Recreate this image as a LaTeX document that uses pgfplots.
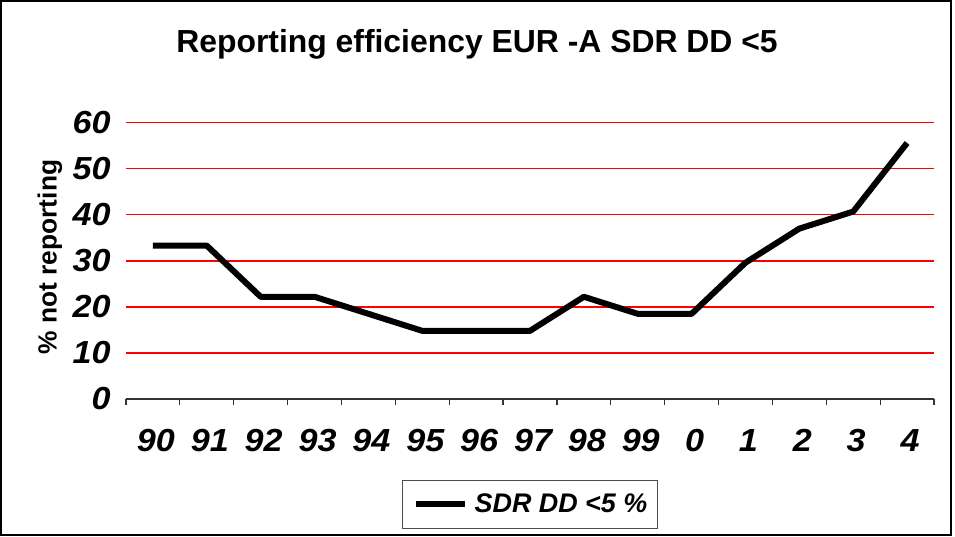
\documentclass[border=0pt]{standalone}
\usepackage{fontspec}
\setmainfont{Liberation Sans}
\newfontfamily\tickfont[FakeStretch=1.07]{Liberation Sans}
\usepackage{pgfplots}
\pgfplotsset{compat=1.18}
\begin{document}
\begin{tikzpicture}
\useasboundingbox (-63bp,-69bp) rectangle (414.5bp,199.5bp);
\draw[line width=1bp] (-62.25bp,-68bp) rectangle (412.5bp,198.75bp);
\begin{axis}[
 at={(0,0)}, anchor=south west,
 scale only axis, width=404bp, height=138.15bp,
 xmin=0, xmax=15, ymin=0, ymax=60,
 clip=false,
 axis x line*=bottom, axis y line*=left,
 x axis line style={-, line width=0.6bp, draw=black!80},
 y axis line style={draw=none},
 xtick={0.5,1.5,...,14.5},
 xticklabels={90,91,92,93,94,95,96,97,98,99,0,1,2,3,4},
 minor xtick={0,1,...,15},
 ytick={0,10,...,60},
 ymajorgrids, grid style={red, line width=0.65bp},
 xmajorgrids=false, xminorgrids=false,
 tick align=outside,
 major tick length=0pt, minor tick length=3bp,
 every tick/.style={black!80, line width=0.6bp},
 /pgf/number format/assume math mode=true,
 ticklabel style={font=\tickfont\fontsize{16}{18}\selectfont\bfseries\itshape},
 yticklabel style={inner sep=0pt, xshift=-7.5bp},
 xticklabel style={inner sep=0pt, yshift=-15bp, xshift=1.5bp},
 legend style={at={(0.5,-0.3818)}, anchor=center, draw=black!70, line width=0.6bp,
   font=\fontsize{13.5}{16}\selectfont\bfseries\itshape,
   nodes={inner sep=0pt}, column sep=3.5bp, inner xsep=5bp, inner ysep=6.5bp},
 legend image code/.code={\draw[line width=3bp,black] (0bp,0bp) -- (24.5bp,0bp);},
]
\addplot[black, line width=3bp, line join=round] coordinates {
 (0.5,33.3) (1.5,33.3) (2.5,22.2) (3.5,22.2) (4.5,18.5) (5.5,14.8) (6.5,14.8)
 (7.5,14.8) (8.5,22.2) (9.5,18.5) (10.5,18.5) (11.5,29.6) (12.5,37.0) (13.5,40.7) (14.5,55.6)
};
\addlegendentry{SDR DD <5 \%}
\end{axis}
\node[font=\fontsize{16}{19}\selectfont\bfseries] at (175.5bp,177.5bp) {Reporting efficiency EUR -A SDR DD <5};
\node[rotate=90, font=\fontsize{13.2}{15}\selectfont\bfseries] at (-38bp,71bp) {\% not reporting};
\end{tikzpicture}
\end{document}
